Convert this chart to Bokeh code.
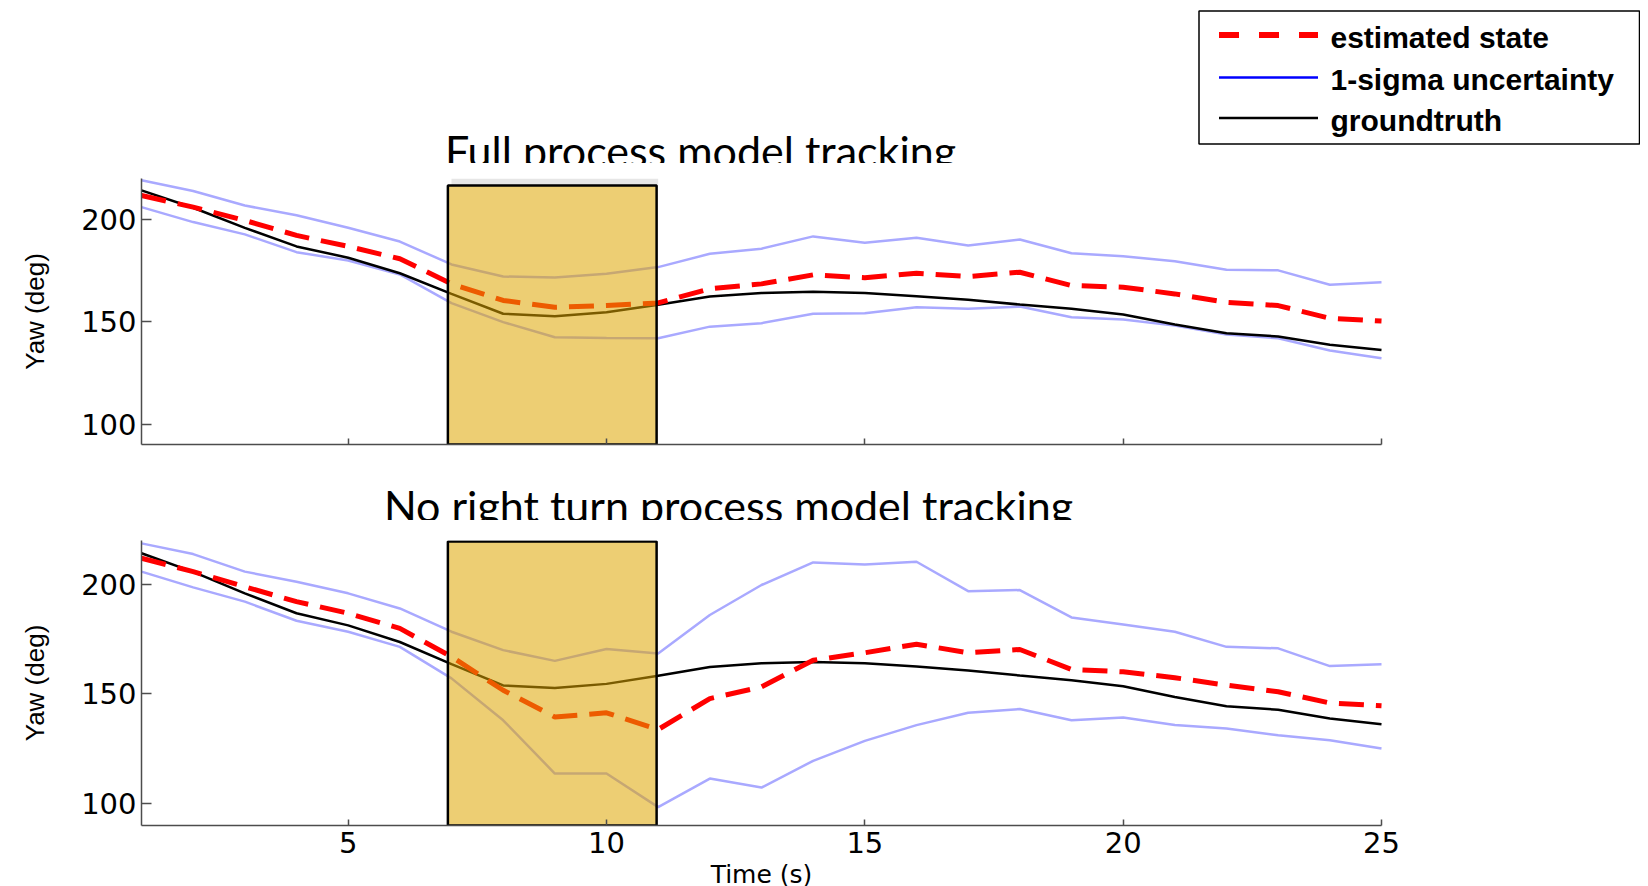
from bokeh.plotting import figure
from bokeh.models import Range1d, FixedTicker
from bokeh.layouts import column
from bokeh.core.properties import value
from bokeh.embed import file_html
from bokeh.resources import INLINE

# ---------------- data ----------------
time_s = list(range(1, 26))

groundtruth = [214.2, 205.7, 195.9, 186.8, 181.3, 173.7, 163.6, 153.9, 152.7, 154.6,
               158.3, 162.3, 164.0, 164.6, 164.0, 162.5, 160.7, 158.4, 156.3, 153.5,
               148.6, 144.4, 142.8, 138.8, 136.2]

est_full = [211.7, 206.0, 199.5, 192.2, 186.8, 180.8, 168.5, 160.4, 157.1, 157.9,
            159.2, 166.1, 168.5, 172.9, 171.5, 173.7, 172.1, 174.2, 167.7, 166.9,
            163.6, 159.5, 157.9, 151.7, 150.3]
up_full = [219.1, 213.9, 206.8, 202.0, 195.9, 189.2, 178.0, 172.1, 171.6, 173.4,
           176.7, 183.2, 185.7, 191.7, 188.6, 191.0, 187.3, 190.2, 183.5, 182.0,
           179.6, 175.4, 175.1, 168.1, 169.3]
lo_full = [206.0, 198.7, 192.7, 184.0, 179.9, 173.1, 159.1, 149.8, 142.4, 142.1,
           141.9, 147.6, 149.3, 153.9, 154.2, 157.1, 156.3, 157.4, 152.2, 151.1,
           148.1, 143.7, 141.9, 135.9, 132.1]

est_nrt = [211.9, 205.8, 198.9, 192.1, 186.8, 179.9, 167.0, 151.7, 139.5, 141.4,
           133.8, 147.9, 153.2, 165.4, 168.8, 172.7, 168.8, 170.3, 161.2, 160.1,
           157.4, 154.0, 151.0, 145.9, 144.6]
up_nrt = [218.7, 213.8, 205.8, 201.2, 195.9, 189.0, 178.4, 170.0, 165.1, 170.5,
          168.5, 186.0, 199.7, 210.0, 209.1, 210.3, 196.9, 197.4, 184.9, 181.7,
          178.4, 171.5, 170.8, 162.7, 163.5]
lo_nrt = [205.8, 198.6, 192.1, 183.4, 178.4, 171.5, 157.1, 138.0, 113.7, 113.7,
          98.4, 111.4, 107.3, 119.5, 128.6, 135.8, 141.4, 143.1, 138.0, 139.3,
          135.8, 134.2, 131.2, 128.9, 125.1]

highlight = [6.93, 10.97]          # shaded time interval (s)
highlight_top = [216.6, 219.5]     # top of shaded box per panel
strip_span = [7.0, 11.0]           # grey strip above the box (top panel)
y_range_vals = [90, 220]
x_range_vals = [1, 25]
y_ticks = [100, 150, 200]
x_ticks = [5, 10, 15, 20, 25]
titles = ["Full process model tracking", "No right turn process model tracking"]
legend_labels = ["estimated state", "1-sigma uncertainty", "groundtruth"]
x_label = "Time (s)"
y_label = "Yaw (deg)"

# ---------------- styles / layout ----------------
W = 1640                 # canvas width of every figure
BL = 141                 # left border (frame starts at page x = 141)
AXES_RIGHT = 1381        # page x where the axes end (t = 25)
FRAME_W = W - BL
# extend the x range so that t=25 falls at AXES_RIGHT while the frame
# stays full width (room for the legend in the header)
x_end = x_range_vals[0] + (x_range_vals[1] - x_range_vals[0]) * FRAME_W / (AXES_RIGHT - BL)

RED = "#FF0000"
SIGMA = "#A9A9FF"
BOXC = "#DEA600"
AXC = "#4d4d4d"


def strip(page_top, page_bottom):
    """A text strip whose data coordinates equal page pixels."""
    h = page_bottom - page_top
    p = figure(width=W, height=h, x_range=Range1d(BL, W),
               y_range=Range1d(page_bottom, page_top),
               output_backend="svg", toolbar_location=None,
               x_axis_type=None, y_axis_type=None,
               min_border_left=BL, min_border_right=0,
               min_border_top=0, min_border_bottom=0)
    p.outline_line_color = None
    p.grid.visible = False
    return p


# ---- header: legend + first title ----
hdr = strip(0, 163)
hdr.quad(left=[1198.5], right=[1639], top=[10.5], bottom=[143.5],
         fill_color="white", line_color="black", line_width=1.5)
row_y = [34.5, 77, 117.5]
hdr.segment(x0=[1218.5], y0=[row_y[0]], x1=[1317.5], y1=[row_y[0]],
            line_color=RED, line_width=6, line_dash="20 20")
hdr.segment(x0=[1218.5], y0=[row_y[1]], x1=[1317.5], y1=[row_y[1]],
            line_color="#0000FF", line_width=2.5)
hdr.segment(x0=[1218.5], y0=[row_y[2]], x1=[1317.5], y1=[row_y[2]],
            line_color="black", line_width=2.5)
hdr.text(x=[1330] * 3, y=[y + 2 for y in row_y], text=legend_labels,
         text_font=value("Liberation Sans"), text_font_style="bold",
         text_font_size="30px", text_color="black",
         text_align="left", text_baseline="alphabetic")
hdr.text(x=[700], y=[150], text=[titles[0]], text_font=value("Lato"),
         text_font_size="43px", text_color="black", text_align="center",
         text_baseline="alphabetic")

# ---- strip with second title ----
mid = strip(470, 520)
mid.text(x=[728], y=[505], text=[titles[1]], text_font=value("Lato"),
         text_font_size="43px", text_color="black", text_align="center",
         text_baseline="alphabetic")

# ---- strip with the time-axis label (centred under the axes) ----
bot = strip(863, 886)
bot.text(x=[(BL + AXES_RIGHT) / 2], y=[873.5], text=[x_label],
         text_font=value("DejaVu Sans"), text_font_size="25px",
         text_color="black", text_align="center", text_baseline="alphabetic")


def make_plot(h, top, bottom, est, up, lo, box_top, labels, grey):
    p = figure(width=W, height=h, x_range=Range1d(x_range_vals[0], x_end),
               y_range=Range1d(*y_range_vals), output_backend="svg",
               toolbar_location=None, min_border_left=BL, min_border_right=0,
               min_border_top=top, min_border_bottom=bottom)
    p.grid.visible = False
    p.outline_line_color = None

    p.line(time_s, up, line_color=SIGMA, line_width=2.5)
    p.line(time_s, lo, line_color=SIGMA, line_width=2.5)
    p.line(time_s, groundtruth, line_color="black", line_width=2.5)
    p.line(time_s, est, line_color=RED, line_width=5, line_dash="25 12")

    if grey:
        p.quad(left=[strip_span[0]], right=[strip_span[1]], bottom=[box_top],
               top=[y_range_vals[1]], fill_color="#E6E6E6", line_color=None)
    p.quad(left=[highlight[0]], right=[highlight[1]], bottom=[y_range_vals[0]],
           top=[box_top], fill_color=BOXC, fill_alpha=0.55,
           line_color="black", line_width=2.5)

    xa = p.xaxis[0]
    xa.bounds = (x_range_vals[0], x_range_vals[1])
    xa.ticker = FixedTicker(ticks=x_ticks)
    xa.major_tick_in = 6
    xa.major_tick_out = 0
    xa.minor_tick_in = 0
    xa.minor_tick_out = 0
    xa.axis_line_color = AXC
    xa.axis_line_width = 1.5
    xa.major_tick_line_color = AXC
    xa.major_tick_line_width = 1.5
    if labels:
        xa.major_label_text_font = "DejaVu Sans"
        xa.major_label_text_font_size = "29px"
        xa.major_label_text_color = "black"
        xa.major_label_standoff = 6
    else:
        xa.major_label_text_font_size = "1px"
        xa.major_label_text_color = None
        xa.major_label_standoff = 0

    ya = p.yaxis[0]
    ya.ticker = FixedTicker(ticks=y_ticks)
    ya.major_tick_in = 10
    ya.major_tick_out = 0
    ya.minor_tick_in = 0
    ya.minor_tick_out = 0
    ya.axis_line_color = AXC
    ya.axis_line_width = 1.5
    ya.major_tick_line_color = AXC
    ya.major_tick_line_width = 1.5
    ya.major_label_text_font = "DejaVu Sans"
    ya.major_label_text_font_size = "29px"
    ya.major_label_text_color = "black"
    ya.major_label_standoff = 5
    ya.axis_label = y_label
    ya.axis_label_text_font = "Liberation Sans"
    ya.axis_label_text_font_size = "26px"
    ya.axis_label_text_font_style = "normal"
    ya.axis_label_text_color = "black"
    ya.axis_label_standoff = 28
    return p


p1 = make_plot(307, 15, 26, est_full, up_full, lo_full, highlight_top[0], False, True)
p2 = make_plot(343, 20, 38, est_nrt, up_nrt, lo_nrt, highlight_top[1], True, False)

layout = column(hdr, p1, mid, p2, bot)
open("out.html", "w").write(file_html(layout, INLINE))
